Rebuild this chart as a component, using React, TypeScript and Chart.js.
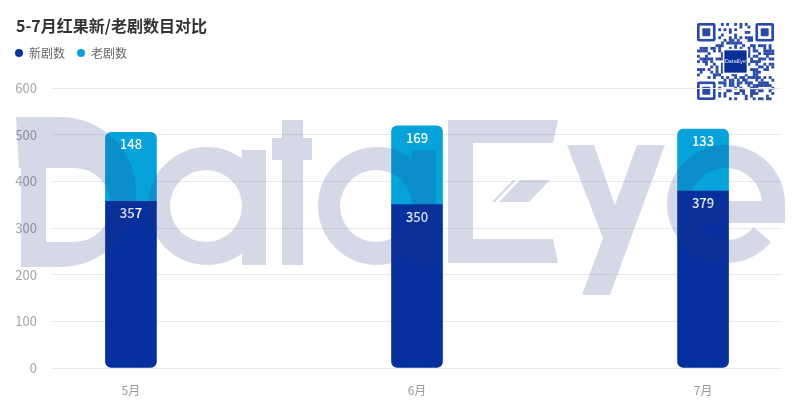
import React, { useEffect, useRef } from "react";
import { Chart, registerables } from "chart.js";

Chart.register(...registerables);

const months = ["5月", "6月", "7月"];
const newShows = [357, 350, 379];
const oldShows = [148, 169, 133];
const yTicks = [0, 100, 200, 300, 400, 500, 600];
const titleText = "5-7月红果新/老剧数目对比";
const seriesNames = ["新剧数", "老剧数"];

const DARK = "#05309d";
const LIGHT = "#05a3da";
const FONT = "'Noto Sans CJK SC', 'Noto Sans', sans-serif";

function drawQR(ctx: CanvasRenderingContext2D, x0: number, y0: number, size: number) {
  const n = 29;
  const m = size / n;
  ctx.save();
  ctx.fillStyle = "#ffffff";
  ctx.fillRect(x0 - 2, y0 - 2, size + 4, size + 4);
  const col = "#2a4aa8";
  ctx.fillStyle = col;
  const inFinder = (r: number, c: number) =>
    (r < 8 && c < 8) || (r < 8 && c >= n - 8) || (r >= n - 8 && c < 8);
  const inCenter = (r: number, c: number) => r >= 10 && r <= 18 && c >= 10 && c <= 18;
  for (let r = 0; r < n; r++) {
    for (let c = 0; c < n; c++) {
      if (inFinder(r, c) || inCenter(r, c)) continue;
      const h = ((r * 73856093) ^ (c * 19349663) ^ (r * c * 83492791)) >>> 0;
      if (h % 7 < 3) ctx.fillRect(x0 + c * m, y0 + r * m, m + 0.2, m + 0.2);
    }
  }
  const finder = (fx: number, fy: number) => {
    const s = 7 * m;
    ctx.fillStyle = col;
    ctx.beginPath();
    ctx.roundRect(fx, fy, s, s, 2);
    ctx.fill();
    ctx.fillStyle = "#fff";
    ctx.fillRect(fx + m, fy + m, s - 2 * m, s - 2 * m);
    ctx.fillStyle = col;
    ctx.beginPath();
    ctx.roundRect(fx + 2 * m, fy + 2 * m, 3 * m, 3 * m, 1);
    ctx.fill();
  };
  finder(x0, y0);
  finder(x0 + (n - 7) * m, y0);
  finder(x0, y0 + (n - 7) * m);
  const cs = 8.4 * m;
  const cx = x0 + size / 2 - cs / 2;
  const cy = y0 + size / 2 - cs / 2;
  ctx.fillStyle = "#fff";
  ctx.fillRect(cx - 1.5, cy - 1.5, cs + 3, cs + 3);
  ctx.fillStyle = "#0a2f9a";
  ctx.fillRect(cx, cy, cs, cs);
  ctx.fillStyle = "#ffffff";
  ctx.font = "5px 'DejaVu Sans', sans-serif";
  ctx.textAlign = "center";
  ctx.textBaseline = "middle";
  ctx.fillText("DataEye", cx + cs / 2, cy + cs / 2);
  ctx.restore();
}

// Watermark "DataEye" built from geometric shapes on an offscreen canvas
function makeWatermark(w: number, h: number): HTMLCanvasElement {
  const c = document.createElement("canvas");
  c.width = w;
  c.height = h;
  const g = c.getContext("2d")!;
  g.fillStyle = "rgb(39,58,134)";
  const poly = (pts: number[][]) => {
    g.beginPath();
    g.moveTo(pts[0][0], pts[0][1]);
    for (let i = 1; i < pts.length; i++) g.lineTo(pts[i][0], pts[i][1]);
    g.closePath();
    g.fill();
  };
  const cut = (fn: () => void) => {
    g.save();
    g.globalCompositeOperation = "destination-out";
    g.fillStyle = "#000";
    fn();
    g.restore();
  };
  // D
  g.beginPath();
  g.moveTo(16, 117);
  g.lineTo(61, 117);
  g.arc(61, 192, 75, -Math.PI / 2, Math.PI / 2);
  g.lineTo(21, 267);
  g.lineTo(21, 168);
  g.lineTo(19, 168);
  g.closePath();
  g.fill();
  cut(() => {
    g.beginPath();
    g.moveTo(46, 168);
    g.lineTo(74, 168);
    g.arc(74, 205, 37, -Math.PI / 2, Math.PI / 2);
    g.lineTo(46, 242);
    g.closePath();
    g.fill();
  });
  // a (x2)
  const drawA = (cx: number) => {
    const cy = 206;
    g.beginPath();
    g.arc(cx, cy, 59, 0, Math.PI * 2);
    g.fill();
    g.fillRect(cx + 35, 150, 24, 115);
    cut(() => {
      g.beginPath();
      g.arc(cx - 1, cy, 36, 0, Math.PI * 2);
      g.fill();
    });
  };
  drawA(207);
  drawA(377);
  // t
  g.fillRect(282, 120, 21, 145);
  g.fillRect(272, 138, 40, 22);
  // E
  g.fillRect(448, 120, 25, 143);
  poly([[448, 120], [558, 120], [553, 143], [448, 143]]);
  poly([[448, 239], [553, 239], [558, 263], [448, 263]]);
  poly([[513, 180], [550, 180], [529, 202], [492, 202]]);
  cut(() => {
    poly([[516, 180], [520, 180], [499, 202], [495, 202]]);
  });
  // y
  poly([[637, 145], [665, 145], [610, 295], [582, 295]]);
  poly([[567, 145], [594, 145], [627, 240], [613, 264]]);
  // e
  {
    const cx = 726;
    const cy = 204;
    g.beginPath();
    g.arc(cx, cy, 59, 0.7, Math.PI * 2, false);
    g.arc(cx, cy, 36, Math.PI * 2, 0.7, true);
    g.closePath();
    g.fill();
    g.fillRect(cx - 37, 201, 96, 22);
  }
  return c;
}

let wmCache: HTMLCanvasElement | null = null;

const decorPlugin = {
  id: "decor",
  beforeDraw(chart: any) {
    const ctx = chart.ctx as CanvasRenderingContext2D;
    ctx.save();
    ctx.fillStyle = "#ffffff";
    ctx.fillRect(0, 0, chart.width, chart.height);
    ctx.fillStyle = "#333333";
    ctx.font = `bold 16px ${FONT}`;
    ctx.textAlign = "left";
    ctx.textBaseline = "middle";
    ctx.fillText(titleText, 16, 26);
    ctx.font = `12px ${FONT}`;
    const items = [
      { x: 19, color: DARK, text: seriesNames[0] },
      { x: 81, color: LIGHT, text: seriesNames[1] },
    ];
    for (const it of items) {
      ctx.fillStyle = it.color;
      ctx.beginPath();
      ctx.arc(it.x, 53, 4, 0, Math.PI * 2);
      ctx.fill();
      ctx.fillStyle = "#666666";
      ctx.fillText(it.text, it.x + 10, 53);
    }
    drawQR(ctx, 697, 23, 77);
    ctx.restore();
  },
  afterDatasetsDraw(chart: any) {
    const ctx = chart.ctx as CanvasRenderingContext2D;
    ctx.save();
    ctx.fillStyle = "#ffffff";
    ctx.font = `500 13px ${FONT}`;
    ctx.textAlign = "center";
    ctx.textBaseline = "middle";
    chart.data.datasets.forEach((ds: any, di: number) => {
      const meta = chart.getDatasetMeta(di);
      meta.data.forEach((bar: any, i: number) => {
        const v = ds.data[i].y;
        ctx.fillText(String(v), bar.x, bar.y + 12);
      });
    });
    ctx.restore();
    if (!wmCache) wmCache = makeWatermark(800, 410);
    ctx.save();
    ctx.globalAlpha = 0.19;
    ctx.drawImage(wmCache, 0, 0);
    ctx.restore();
  },
};

export default function App() {
  const ref = useRef<HTMLCanvasElement | null>(null);
  useEffect(() => {
    document.body.style.margin = "0";
    const canvas = ref.current!;
    const chart = new Chart(canvas, {
      type: "bar",
      data: {
        datasets: [
          {
            label: seriesNames[0],
            data: newShows.map((v, i) => ({ x: i, y: v })),
            backgroundColor: DARK,
            barThickness: 51,
            borderRadius: { topLeft: 0, topRight: 0, bottomLeft: 6, bottomRight: 6 },
            borderSkipped: false,
          },
          {
            label: seriesNames[1],
            data: oldShows.map((v, i) => ({ x: i, y: v })),
            backgroundColor: LIGHT,
            barThickness: 51,
            borderRadius: { topLeft: 6, topRight: 6, bottomLeft: 0, bottomRight: 0 },
            borderSkipped: false,
          },
        ],
      },
      options: {
        responsive: false,
        animation: false,
        events: [],
        layout: { padding: { top: 88, right: 18, left: 0, bottom: 0 } },
        plugins: {
          legend: { display: false },
          title: { display: false },
          tooltip: { enabled: false },
        },
        scales: {
          x: {
            type: "linear",
            stacked: true,
            offset: false,
            min: -0.276,
            max: 2.276,
            grid: { display: false, drawTicks: false },
            border: { display: false },
            afterBuildTicks: (s: any) => {
              s.ticks = months.map((_, i) => ({ value: i }));
            },
            afterFit: (s: any) => {
              s.height = 42;
            },
            ticks: {
              padding: 15,
              color: "#999999",
              font: { size: 12, family: FONT },
              callback: (v: any) => months[v] ?? "",
              maxRotation: 0,
            },
          },
          y: {
            stacked: true,
            min: 0,
            max: 600,
            afterBuildTicks: (s: any) => {
              s.ticks = yTicks.map((v) => ({ value: v }));
            },
            afterFit: (s: any) => {
              s.width = 52;
            },
            grid: { color: "#e9e9ec", lineWidth: 1, drawTicks: false },
            border: { display: false },
            ticks: {
              padding: 15,
              color: "#a6a6a6",
              font: { size: 13, family: FONT },
            },
          },
        },
      },
      plugins: [decorPlugin],
    } as any);
    return () => chart.destroy();
  }, []);
  return (
    <div style={{ position: "absolute", left: 0, top: 0, width: 800, height: 410 }}>
      <canvas ref={ref} width={800} height={410} style={{ display: "block" }} />
    </div>
  );
}
